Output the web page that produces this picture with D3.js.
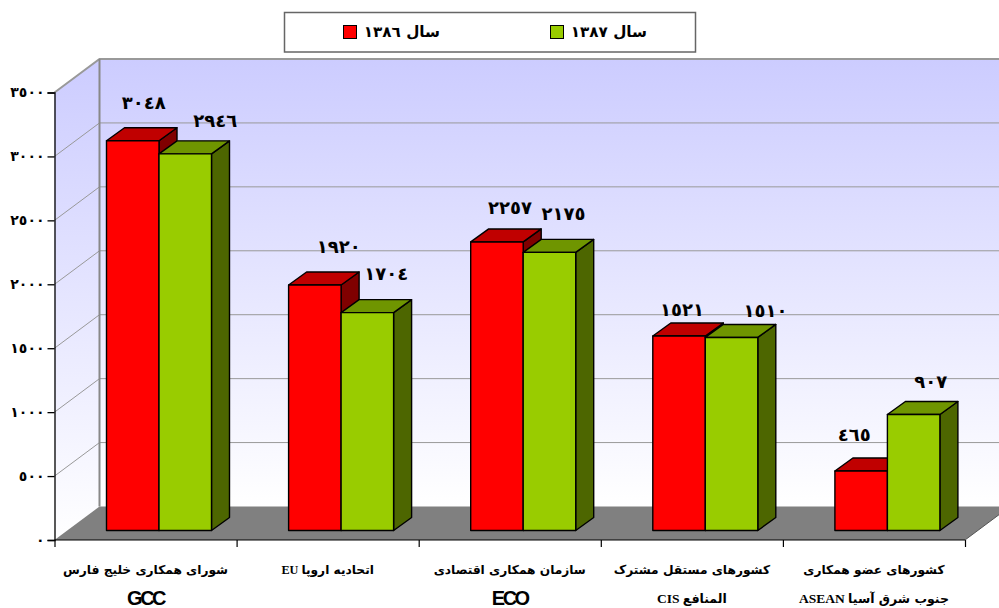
<!DOCTYPE html>
<html>
<head>
<meta charset="utf-8">
<script src="https://cdn.jsdelivr.net/npm/d3@7"></script>
<style>
html, body { margin: 0; padding: 0; background: #fff; }
svg { display: block; }
text { font-family: "DejaVu Sans", sans-serif; font-weight: bold; fill: #000; }
</style>
</head>
<body>
<div id="chart"></div>
<script>
// values
var categories = ["GCC", "EU", "ECO", "CIS", "ASEAN"];
var seriesNames = ["سال ۱۳۸٦", "سال ۱۳۸۷"];
var values1386 = [3048, 1920, 2257, 1521, 465];
var values1387 = [2946, 1704, 2175, 1510, 907];
var yTicks = [0, 500, 1000, 1500, 2000, 2500, 3000, 3500];
var labelLine1 = ["شورای همکاری خلیج فارس", "اتحادیه اروپا", "سازمان همکاری اقتصادی", "کشورهای مستقل مشترک", "کشورهای عضو همکاری"];
var labelLine2 = ["GCC", "", "ECO", "المنافع", "جنوب شرق آسیا"];
var latinInline = ["", "EU", "", "", ""];
var latinLine2 = ["", "", "", "CIS", "ASEAN"];

// hand placed data labels in the original: offset from the bar centre
var nudgeX = [[2, 21], [15, 10], [4, 5], [-6, 25], [-16, 8]];
var nudgeY = [[-38, -33], [-39, -39], [-34, -39], [-27, -27], [-37, -33]];

var width = 999, height = 608;
var depthX = 45, depthY = 33.5;   // wall depth
var barDX = 18, barDY = 13;       // bar depth

var colors = [
    { front: "#ff0000", top: "#c00000", side: "#800000" },
    { front: "#99cc00", top: "#6f9500", side: "#4d6600" }
];

var svg = d3.select("#chart").append("svg")
    .attr("width", width)
    .attr("height", height);

var x0 = d3.scaleBand().domain(categories).range([54.5, 965]);
var x1 = d3.scaleBand().domain([0, 1]).range([52, 157]);
var y = d3.scaleLinear().domain([0, 3500]).range([540, 92.5]);
var barBase = y(0) - 9.5;

function persian(n) {
    var digits = "٠١٢٣٤٥٦٧٨٩";
    return String(n).replace(/\d/g, function(c) { return digits[+c]; });
}

var defs = svg.append("defs");
var grad = defs.append("linearGradient")
    .attr("id", "wall").attr("x1", 0).attr("x2", 0).attr("y1", 0).attr("y2", 1);
grad.append("stop").attr("offset", "0%").attr("stop-color", "#ccccff");
grad.append("stop").attr("offset", "100%").attr("stop-color", "#ffffff");

var line = d3.line();
var x3 = 965, xL = 54.5;

// walls and floor
svg.append("path")
    .attr("d", line([[xL, y(3500)], [xL + depthX, y(3500) - depthY], [xL + depthX, y(0) - depthY], [xL, y(0)]]) + "Z")
    .attr("fill", "url(#wall)");
svg.append("rect")
    .attr("x", xL + depthX).attr("y", y(3500) - depthY)
    .attr("width", width - xL - depthX).attr("height", y(0) - y(3500))
    .attr("fill", "url(#wall)");

// grid
yTicks.slice(1).forEach(function(t) {
    svg.append("path")
        .attr("d", line([[xL, y(t)], [xL + depthX, y(t) - depthY], [width, y(t) - depthY]]))
        .attr("fill", "none")
        .attr("stroke", "#999")
        .attr("stroke-width", t == 3500 ? 2 : 1);
});
svg.append("path")
    .attr("d", line([[xL + depthX, y(3500) - depthY], [xL + depthX, y(0) - depthY]]))
    .attr("stroke", "#888").attr("stroke-width", 2);

svg.append("path")
    .attr("d", line([[xL, y(0)], [xL + depthX, y(0) - depthY], [x3 + depthX, y(0) - depthY], [x3, y(0)]]) + "Z")
    .attr("fill", "#808080");

// bars, red first so the green one sits on top of it
[values1386, values1387].forEach(function(vals, s) {
    var g = svg.append("g").selectAll("g")
        .data(vals)
        .enter().append("g")
        .attr("stroke", "#000")
        .attr("stroke-width", 1.4)
        .attr("stroke-linejoin", "round");

    g.append("path")
        .attr("fill", colors[s].side)
        .attr("d", function(d, i) {
            var r = x0(categories[i]) + x1(s) + x1.bandwidth(), t = y(d) - 9.5;
            return line([[r, barBase], [r + barDX, barBase - barDY], [r + barDX, t - barDY], [r, t]]) + "Z";
        });
    g.append("path")
        .attr("fill", colors[s].top)
        .attr("d", function(d, i) {
            var l = x0(categories[i]) + x1(s), r = l + x1.bandwidth(), t = y(d) - 9.5;
            return line([[l, t], [l + barDX, t - barDY], [r + barDX, t - barDY], [r, t]]) + "Z";
        });
    g.append("rect")
        .attr("fill", colors[s].front)
        .attr("x", function(d, i) { return x0(categories[i]) + x1(s); })
        .attr("y", function(d) { return y(d) - 9.5; })
        .attr("width", x1.bandwidth())
        .attr("height", function(d) { return barBase - (y(d) - 9.5); });
});

// data labels
[values1386, values1387].forEach(function(vals, s) {
    svg.append("g").selectAll("text")
        .data(vals)
        .enter().append("text")
        .attr("text-anchor", "middle")
        .attr("dominant-baseline", "central")
        .attr("font-size", 18)
        .attr("letter-spacing", 0.5)
        .attr("x", function(d, i) { return x0(categories[i]) + x1(s) + x1.bandwidth() / 2 + barDX / 2 + nudgeX[i][s]; })
        .attr("y", function(d, i) { return y(d) - 9.5 + nudgeY[i][s]; })
        .text(function(d) { return persian(d); });
});

// y axis
var yAxis = svg.append("g")
    .attr("transform", "translate(" + xL + ",0)")
    .call(d3.axisLeft(y).tickValues(yTicks).tickSize(7).tickPadding(3).tickFormat(persian));
yAxis.selectAll("path,line").attr("stroke", "#000").attr("stroke-width", 1.3);
yAxis.selectAll("text")
    .attr("font-family", "DejaVu Sans")
    .attr("font-size", 14)
    .attr("font-weight", "bold")
    .attr("letter-spacing", 1);

// x axis: ticks sit between the groups
var xEdges = d3.scaleLinear().domain([0, categories.length]).range([xL, x3]);
var xAxis = svg.append("g")
    .attr("transform", "translate(0," + y(0) + ")")
    .call(d3.axisBottom(xEdges).ticks(categories.length).tickSize(7).tickFormat(""));
xAxis.selectAll("path,line").attr("stroke", "#000").attr("stroke-width", 1.2);
xAxis.select(".domain").attr("d", line([[xL, 0], [x3, 0]]));
svg.append("path")
    .attr("d", line([[x3, y(0)], [x3 + depthX, y(0) - depthY]]))
    .attr("stroke", "#555").attr("stroke-width", 1);

// category labels
var catText = svg.append("g").selectAll("g")
    .data(categories)
    .enter().append("g")
    .attr("transform", function(d) { return "translate(" + (x0(d) + x0.bandwidth() / 2) + ",0)"; })
    .attr("text-anchor", "middle");

catText.append("text")
    .attr("y", 574)
    .attr("direction", "rtl")
    .attr("font-size", 12.2)
    .each(function(d, i) {
        var t = d3.select(this);
        t.append("tspan").text(labelLine1[i]);
        if (latinInline[i]) t.append("tspan")
            .style("font-family", "Liberation Serif")
            .text(" " + latinInline[i]);
    });

catText.append("text")
    .attr("y", 603)
    .attr("direction", "rtl")
    .attr("font-size", 12.5)
    .each(function(d, i) {
        var t = d3.select(this);
        if (labelLine2[i] == d) {
            t.attr("direction", "ltr")
                .style("font-family", "Liberation Sans")
                .attr("font-size", 20)
                .attr("letter-spacing", -2.5)
                .attr("y", 605)
                .text(d);
            return;
        }
        t.append("tspan").text(labelLine2[i]);
        if (latinLine2[i]) t.append("tspan")
            .style("font-family", "Liberation Serif")
            .attr("font-size", 13.5)
            .text(" " + latinLine2[i]);
    });

// legend
svg.append("rect")
    .attr("x", 284.5).attr("y", 12.5)
    .attr("width", 411).attr("height", 39.5)
    .attr("fill", "#fff")
    .attr("stroke", "#666")
    .attr("stroke-width", 1.5);

var legend = svg.append("g").selectAll("g")
    .data(seriesNames)
    .enter().append("g")
    .attr("transform", function(d, i) { return "translate(" + (343.5 + i * 207) + ",25.5)"; });
legend.append("rect")
    .attr("width", 13).attr("height", 13)
    .attr("fill", function(d, i) { return colors[i].front; })
    .attr("stroke", "#000")
    .attr("stroke-width", 1);
legend.append("text")
    .attr("x", 96.5)
    .attr("y", 11.5)
    .attr("direction", "rtl")
    .attr("font-size", 15.2)
    .text(function(d) { return d; });
</script>
</body>
</html>
